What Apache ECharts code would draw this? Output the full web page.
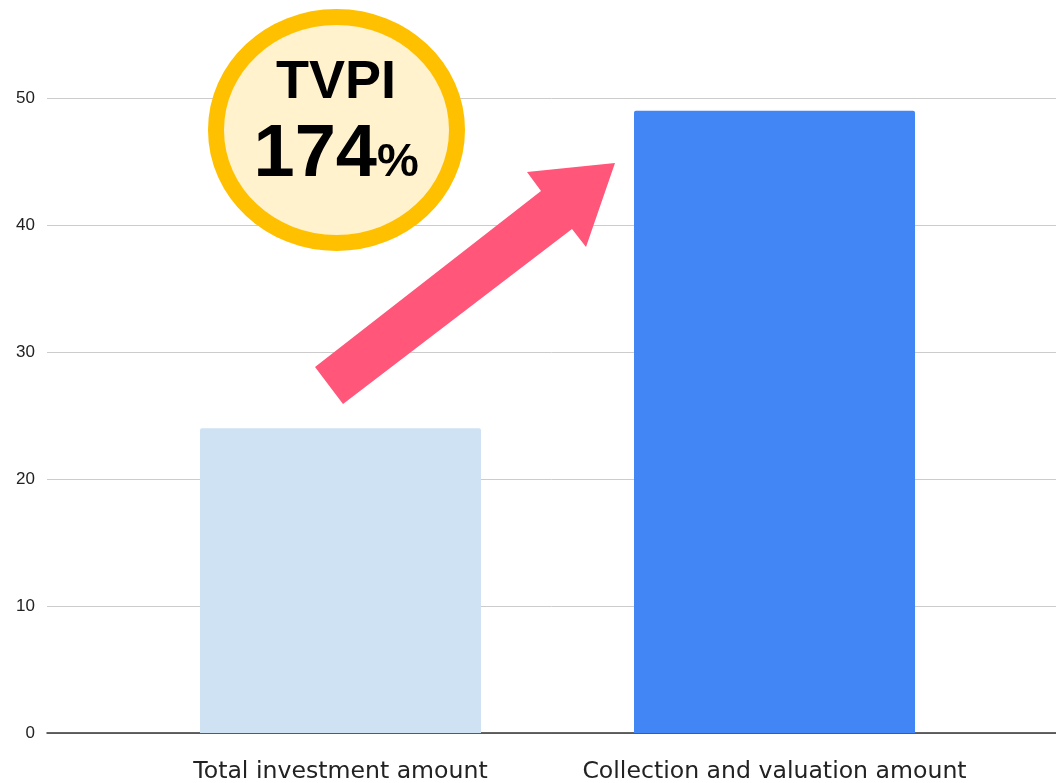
<!DOCTYPE html>
<html>
<head>
<meta charset="utf-8">
<script src="https://cdn.jsdelivr.net/npm/echarts@6/dist/echarts.min.js"></script>
<style>
html,body{margin:0;padding:0;background:#fff;}
#chart{width:1056px;height:783px;}
</style>
</head>
<body>
<div id="chart"></div>
<script>
const categories = ['Total investment amount', 'Collection and valuation amount'];
const values = [24, 49];
const barColors = ['#CFE2F3', '#4285F4'];
const yTicks = [0, 10, 20, 30, 40, 50];
const badgeTitle = 'TVPI';
const badgeValue = '174';
const badgeUnit = '%';

const chart = echarts.init(document.getElementById('chart'), null, {renderer: 'canvas'});

const option = {
  animation: false,
  backgroundColor: '#ffffff',
  grid: [
    {left: 47, right: 0, top: 98, bottom: 50, containLabel: false, outerBoundsMode: 'none'},
    {left: 123.5, right: 64.5, top: 98, bottom: 50, containLabel: false, outerBoundsMode: 'none'}
  ],
  xAxis: [
    {
      gridIndex: 0, type: 'category', data: [''],
      axisLine: {show: true, lineStyle: {color: '#333333', width: 1.5}},
      axisTick: {show: false}, axisLabel: {show: false}, splitLine: {show: false}
    },
    {
      gridIndex: 1, type: 'category', data: categories,
      axisLine: {show: false}, axisTick: {show: false},
      axisLabel: {
        show: true, interval: 0, hideOverlap: false, margin: 27, color: '#222222',
        fontFamily: 'DejaVu Sans', fontSize: 23.6
      }
    }
  ],
  yAxis: [
    {
      gridIndex: 0, type: 'value', min: yTicks[0], max: yTicks[yTicks.length - 1], interval: 10,
      axisLine: {show: false}, axisTick: {show: false},
      axisLabel: {show: true, margin: 12, color: '#222222', fontFamily: 'Liberation Sans', fontSize: 17},
      splitLine: {show: true, lineStyle: {color: '#CCCCCC', width: 1}}
    },
    {
      gridIndex: 1, type: 'value', min: yTicks[0], max: yTicks[yTicks.length - 1], interval: 10,
      axisLine: {show: false}, axisTick: {show: false}, axisLabel: {show: false},
      splitLine: {show: false}
    }
  ],
  series: [
    {
      type: 'bar', xAxisIndex: 1, yAxisIndex: 1,
      barWidth: 281,
      data: values.map((v, i) => ({value: v, itemStyle: {color: barColors[i], borderRadius: [2, 2, 0, 0]}})),
      z: 2
    }
  ],
  graphic: [
    {
      type: 'polygon', z: 10,
      shape: {points: [[315, 367], [541, 191], [527, 172], [615, 163], [586, 247], [572, 229], [343, 404]]},
      style: {fill: '#FF5679'}
    },
    {
      type: 'ellipse', z: 11,
      shape: {cx: 336.5, cy: 130, rx: 120.5, ry: 113},
      style: {fill: '#FFF2CC', stroke: '#FFC000', lineWidth: 16}
    },
    {
      type: 'text', z: 12, x: 336, y: 83,
      style: {text: badgeTitle, fill: '#000', font: 'bold 54px "Liberation Sans", Arial, sans-serif', align: 'center', verticalAlign: 'middle'}
    },
    {
      type: 'text', z: 12, x: 377, y: 156,
      style: {text: badgeValue, fill: '#000', font: 'bold 74px "Liberation Sans", Arial, sans-serif', align: 'right', verticalAlign: 'middle'}
    },
    {
      type: 'text', z: 12, x: 377, y: 163,
      style: {text: badgeUnit, fill: '#000', font: 'bold 47px "Liberation Sans", Arial, sans-serif', align: 'left', verticalAlign: 'middle'}
    }
  ]
};
chart.setOption(option);
</script>
</body>
</html>
